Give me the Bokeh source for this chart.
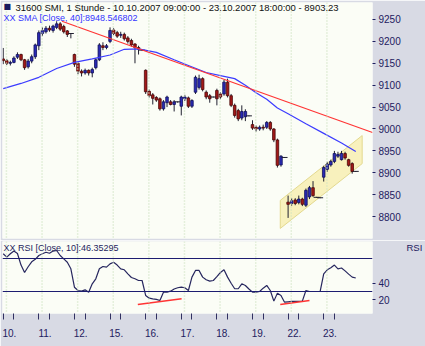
from bokeh.plotting import figure
from bokeh.layouts import column
from bokeh.models import FixedTicker, Label, Span, Range1d, LinearAxis
from bokeh.embed import file_html
from bokeh.resources import INLINE

# ---------------- data ----------------
days = ["10.", "11.", "12.", "15.", "16.", "17.", "18.", "19.", "22.", "23."]
bars_per_day = 10

opens = [9160, 9156, 9150, 9152, 9164, 9170, 9158, 9142, 9155, 9165,
         9190, 9218, 9222, 9230, 9225, 9232, 9240, 9234, 9224, 9218,
         9170, 9150, 9132, 9128, 9134, 9128, 9140, 9158, 9190, 9186,
         9200, 9226, 9220, 9214, 9216, 9208, 9202, 9194, 9186, 9180,
         9134, 9086, 9078, 9072, 9069, 9046, 9060, 9062, 9056, 9062,
         9052, 9069, 9071, 9052, 9084, 9095, 9115, 9084, 9076, 9073,
         9088, 9080, 9080, 9107, 9076, 9054, 9042, 9025, 9028, 9030,
         9010, 9004, 9000, 9004, 9004, 9015, 9000, 8975, 8918, 8935,
         8833, 8830, 8838, 8832, 8840, 8826, 8845, 8866, 8844, 8843,
         8890, 8908, 8918, 8926, 8938, 8930, 8944, 8930, 8921, 8903.23]
highs = [9185, 9160, 9156, 9166, 9175, 9172, 9160, 9160, 9170, 9195,
         9225, 9232, 9235, 9236, 9238, 9246, 9244, 9238, 9226, 9219,
         9172, 9152, 9136, 9138, 9136, 9140, 9162, 9196, 9198, 9194,
         9232, 9230, 9224, 9222, 9220, 9212, 9206, 9196, 9190, 9181,
         9136, 9090, 9082, 9075, 9072, 9066, 9076, 9066, 9066, 9063,
         9076, 9078, 9074, 9068, 9122, 9124, 9118, 9088, 9080, 9074,
         9092, 9084, 9112, 9115, 9080, 9058, 9046, 9054, 9045, 9031,
         9020, 9008, 9008, 9010, 9018, 9018, 9002, 8978, 8940, 8936,
         8848, 8842, 8842, 8848, 8843, 8864, 8870, 8881, 8845, 8844,
         8916, 8925, 8930, 8950, 8948, 8950, 8948, 8932, 8924, 8904]
lows = [9148, 9146, 9145, 9150, 9160, 9155, 9135, 9138, 9150, 9160,
        9180, 9212, 9218, 9222, 9220, 9228, 9224, 9218, 9210, 9207,
        9142, 9125, 9120, 9124, 9122, 9118, 9136, 9155, 9180, 9182,
        9196, 9214, 9208, 9208, 9202, 9195, 9188, 9150, 9170, 9178,
        9080, 9072, 9056, 9062, 9042, 9042, 9050, 9054, 9040, 9060,
        9031, 9064, 9048, 9048, 9080, 9090, 9086, 9068, 9060, 9072,
        9054, 9068, 9076, 9072, 9050, 9026, 9018, 9020, 9018, 9029,
        8998, 8994, 8996, 8997, 9000, 8996, 8970, 8912, 8914, 8934,
        8797, 8825, 8826, 8828, 8824, 8822, 8840, 8845, 8843, 8842,
        8880, 8902, 8914, 8922, 8934, 8928, 8930, 8914, 8898, 8902]
closes = [9156, 9150, 9152, 9162, 9170, 9158, 9140, 9155, 9165, 9192,
          9220, 9225, 9230, 9226, 9235, 9240, 9228, 9222, 9216, 9218,
          9148, 9132, 9128, 9134, 9128, 9136, 9158, 9192, 9186, 9190,
          9225, 9218, 9212, 9216, 9206, 9200, 9192, 9186, 9182, 9180,
          9085, 9076, 9070, 9066, 9046, 9062, 9073, 9056, 9062, 9062,
          9073, 9073, 9052, 9065, 9118, 9115, 9090, 9073, 9069, 9073,
          9069, 9073, 9107, 9076, 9054, 9031, 9023, 9040, 9040, 9030,
          9002, 9000, 9004, 9002, 9015, 9000, 8975, 8917, 8938, 8935,
          8828, 8836, 8830, 8840, 8828, 8860, 8866, 8848, 8844, 8843,
          8912, 8920, 8926, 8944, 8942, 8944, 8934, 8917, 8903, 8903.23]

sma_idx = [0, 5, 10, 15, 20, 25, 30, 34, 38, 43, 48, 52, 57, 61, 65, 68, 71, 74, 77, 80, 85, 90, 95, 99]
sma_val = [9092, 9104, 9118, 9138, 9152, 9160, 9169, 9182, 9183, 9175, 9158, 9145, 9129, 9122,
           9115, 9100, 9083, 9068, 9048, 9035, 9012, 8990, 8968, 8948.546802]

trend_x = [16.5, 103.7]
trend_y = [9246, 8992]

channel_x = [77.8, 100.8]
channel_low = [8773, 8921]
channel_high = [8837, 8985]

rsi = [75.7, 71.6, 75.7, 79.0, 76.0, 62.0, 53.0, 60.0, 66.0, 69.0,
       73.6, 75.7, 77.6, 76.4, 79.0, 79.7, 73.6, 69.6, 65.5, 57.5,
       35.2, 31.2, 30.4, 32.0, 29.2, 39.3, 45.4, 57.5, 60.3, 59.5,
       63.5, 65.5, 62.0, 57.5, 56.3, 51.4, 47.0, 45.4, 43.3, 43.3,
       25.2, 21.9, 21.1, 20.5, 19.1, 29.2, 29.2, 30.4, 33.0, 34.5,
       35.2, 34.5, 31.2, 47.4, 55.5, 55.5, 47.4, 44.2, 42.5, 43.3,
       48.0, 53.0, 56.3, 47.4, 40.0, 33.3, 33.3, 39.3, 37.3, 33.0,
       29.2, 29.2, 30.0, 34.0, 37.3, 31.2, 18.3, 28.0, 25.2, 17.0,
       17.5, 17.9, 17.9, 18.0, 18.3, 31.2, 30.0, 30.0, 30.0, 30.0,
       51.4, 56.3, 58.7, 62.0, 57.5, 58.5, 55.0, 51.0, 47.4, 46.35295]
rsi_levels = [30, 70]
rsi_sup1_x = [37.8, 50.1]
rsi_sup1_y = [14.2, 21.1]
rsi_sup2_x = [77.8, 86.0]
rsi_sup2_y = [14.2, 19.1]

price_ticks = [8800, 8850, 8900, 8950, 9000, 9050, 9100, 9150, 9200, 9250]
rsi_ticks = [20, 40]
rsi_name_pos = 83

title_text = "31600  SMI, 1 Stunde - 10.10.2007 09:00:00 - 23.10.2007 18:00:00 - 8903.23"
sma_text = "XX SMA [Close, 40]:8948.546802"
rsi_text = "XX RSI [Close, 10]:46.35295"
rsi_name = "RSI"

# ---------------- style ----------------
FONT = "Liberation Sans"
BG = "#fbfdf6"
BORDER = "#d8dae4"
NAVY = "#1e2060"
UP_FILL, UP_LINE = "#2a2ab4", "#10105a"
DN_FILL, DN_LINE = "#a31818", "#4a0808"

X0, X1 = -0.2, 103.7
LEFT = 2
FRAME_W = 373
PPB = FRAME_W / (X1 - X0)

def xpx(px):
    return X0 + (px - LEFT) / PPB

# ---------------- main price panel ----------------
Y0, Y1 = 8750, 9288.8
TOP1, FH1 = 2, 236
def ypx1(py):
    return Y1 - (py - TOP1) * (Y1 - Y0) / FH1

p = figure(width=425, height=240, x_range=Range1d(X0, X1), y_range=Range1d(Y0, Y1),
           output_backend="svg", toolbar_location=None, y_axis_location="right",
           x_axis_location=None, min_border_left=LEFT, min_border_top=TOP1,
           min_border_bottom=2, min_border_right=50)
p.background_fill_color = BG
p.border_fill_color = BORDER
p.outline_line_color = None
p.grid.grid_line_color = None

for d in range(len(days)):
    p.add_layout(Span(location=d * bars_per_day + 0.9, dimension="height",
                      line_color="#cfe3c2", line_dash="1 2", line_width=1.5))

# channel
p.patch(x=[channel_x[0], channel_x[1], channel_x[1], channel_x[0]],
        y=[channel_low[0], channel_low[1], channel_high[1], channel_high[0]],
        fill_color="#f8f1bd", line_color="#e3d98f", line_width=1)

idx = list(range(len(opens)))
up = [i for i in idx if closes[i] > opens[i]]
dn = [i for i in idx if closes[i] < opens[i]]
dj = [i for i in idx if closes[i] == opens[i]]

p.segment(x0=idx, y0=lows, x1=idx, y1=highs, line_color="#202030", line_width=1)
p.vbar(x=up, width=0.72, top=[closes[i] for i in up], bottom=[opens[i] for i in up],
       fill_color=UP_FILL, line_color=UP_LINE, line_width=0.8)
p.vbar(x=dn, width=0.72, top=[opens[i] for i in dn], bottom=[closes[i] for i in dn],
       fill_color=DN_FILL, line_color=DN_LINE, line_width=0.8)
p.scatter(x=dj, y=[closes[i] for i in dj], marker="dash", size=6,
          line_color="#202030", line_width=1)

p.line(sma_idx, sma_val, line_color="#3c3cff", line_width=1.2)
p.line(trend_x, trend_y, line_color="#ff3434", line_width=1.2)

ax = p.yaxis[0]
ax.ticker = FixedTicker(ticks=price_ticks)
ax.axis_line_color = None
ax.major_tick_line_color = NAVY
ax.major_tick_out = 3
ax.major_tick_in = 0
ax.minor_tick_line_color = None
ax.major_label_standoff = 3
ax.major_label_text_font = FONT
ax.major_label_text_font_size = "10px"
ax.major_label_text_color = NAVY

p.add_layout(Label(x=xpx(3), y=ypx1(1.5), text="■", text_font="DejaVu Sans",
                   text_font_size="8px", text_color="#1a1a5e", text_baseline="top"))
p.add_layout(Label(x=xpx(15), y=ypx1(1.5), text=title_text, text_font=FONT,
                   text_font_size="9.5px", text_color="#101010", text_baseline="top"))
p.add_layout(Label(x=xpx(3), y=ypx1(12), text=sma_text, text_font=FONT,
                   text_font_size="9px", text_color="#3434ff", text_baseline="top"))

# ---------------- RSI panel ----------------
R0, R1 = 3.3, 90.6
TOP2, FH2 = 1, 72
def ypx2(py):  # py measured from top of this panel's frame
    return R1 - py * (R1 - R0) / FH2

r = figure(width=425, height=106, x_range=p.x_range, y_range=Range1d(R0, R1),
           output_backend="svg", toolbar_location=None, y_axis_location="right",
           min_border_left=LEFT, min_border_top=TOP2, min_border_bottom=33,
           min_border_right=50)
r.background_fill_color = BG
r.border_fill_color = BORDER
r.outline_line_color = None
r.grid.grid_line_color = None

for d in range(len(days)):
    r.add_layout(Span(location=d * bars_per_day + 0.9, dimension="height",
                      line_color="#cfe3c2", line_dash="1 2", line_width=1.5))
for lv in rsi_levels:
    r.add_layout(Span(location=lv, dimension="width", line_color="#1c1c70", line_width=1.2))

r.line(idx, rsi, line_color="#26265e", line_width=1.2)
r.line(rsi_sup1_x, rsi_sup1_y, line_color="#ff3434", line_width=1.5)
r.line(rsi_sup2_x, rsi_sup2_y, line_color="#ff3434", line_width=1.5)

ray = r.yaxis[0]
ray.ticker = FixedTicker(ticks=rsi_ticks)
ray.axis_line_color = None
ray.major_tick_line_color = NAVY
ray.major_tick_out = 3
ray.major_tick_in = 0
ray.minor_tick_line_color = None
ray.major_label_standoff = 3
ray.major_label_text_font = FONT
ray.major_label_text_font_size = "10px"
ray.major_label_text_color = NAVY

# second right axis that only carries the panel name
name_axis = LinearAxis(ticker=FixedTicker(ticks=[rsi_name_pos]),
                       major_label_overrides={rsi_name_pos: rsi_name},
                       axis_line_color=None, major_tick_line_color=None,
                       minor_tick_line_color=None, major_tick_out=0, major_tick_in=0,
                       major_label_standoff=14, major_label_text_font=FONT,
                       major_label_text_font_size="9.5px", major_label_text_color=NAVY)
r.add_layout(name_axis, "right")

label_pos = [d * bars_per_day + 1.75 for d in range(len(days))]
tick_pos = []
for d in range(len(days)):
    tick_pos += [d * bars_per_day, d * bars_per_day + 3]
rax = r.xaxis[0]
rax.ticker = FixedTicker(ticks=label_pos, minor_ticks=tick_pos)
rax.major_label_overrides = {lp: days[i] for i, lp in enumerate(label_pos)}
rax.axis_line_color = None
rax.major_tick_line_color = None
rax.major_tick_out = 0
rax.major_tick_in = 0
rax.minor_tick_line_color = "#303060"
rax.minor_tick_out = 6
rax.minor_tick_in = 0
rax.major_label_standoff = 9
rax.major_label_text_font = FONT
rax.major_label_text_font_size = "10px"
rax.major_label_text_color = NAVY

r.add_layout(Label(x=xpx(3), y=ypx2(1), text=rsi_text, text_font=FONT,
                   text_font_size="9px", text_color="#26265e", text_baseline="top"))

layout = column(p, r, spacing=0)
open("out.html", "w").write(file_html(layout, INLINE))
